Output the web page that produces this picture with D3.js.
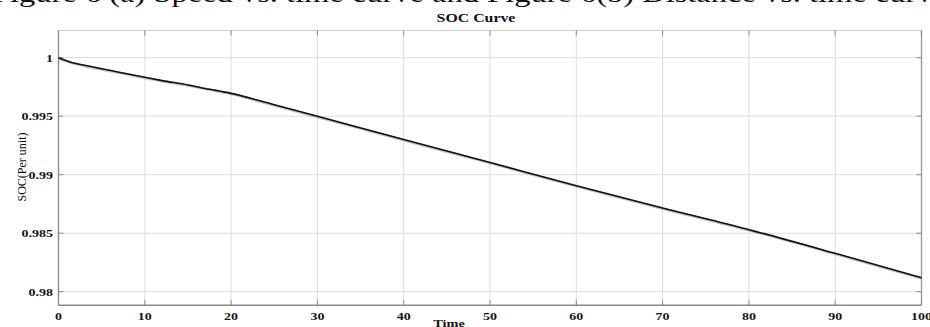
<!DOCTYPE html>
<html>
<head>
<meta charset="utf-8">
<script src="https://cdn.jsdelivr.net/npm/d3@7"></script>
<style>
  html, body { margin: 0; padding: 0; background: #fff; }
  svg { display: block; }
  text { font-family: "Liberation Serif", "Times New Roman", serif; fill: #111; }
</style>
</head>
<body>
<svg id="chart" width="930" height="327"></svg>
<script>
// Battery state of charge over the drive cycle
const time = [0, 1, 2, 3, 5, 7, 10, 12, 15, 17, 20, 25, 30, 40, 50, 60, 70, 80, 90, 100];
const soc  = [1.0000, 0.99972, 0.99950, 0.99935, 0.99905, 0.99876, 0.99832, 0.99804, 0.99767, 0.99737,
              0.99695, 0.99597, 0.99499, 0.99300, 0.99104, 0.98906, 0.98715, 0.98530, 0.98328, 0.98120];
const xTicks = [0, 10, 20, 30, 40, 50, 60, 70, 80, 90, 100];
const yTicks = [0.98, 0.985, 0.99, 0.995, 1];
const yTickLabels = ["0.98", "0.985", "0.99", "0.995", "1"];
const headerText = "Figure 6 (a) Speed vs. time curve and Figure 6(b) Distance vs. time curve";
const titleText = "SOC Curve";
const xLabelText = "Time";
const yLabelText = "SOC(Per unit)";

const svg = d3.select("#chart");
const plot = { left: 58.5, right: 921.5, top: 30.5, bottom: 305.3 };

const x = d3.scaleLinear().domain([0, 100]).range([plot.left, plot.right]);
const y = d3.scaleLinear().domain([0.97884, 1.00232]).range([plot.bottom, plot.top]);

// Text stretched horizontally, anchored at (tx, ty)
function wideText(g, tx, ty, str, opts) {
  const sx = opts.sx || 1.3;
  return g.append("text")
    .attr("transform", `translate(${tx},${ty}) scale(${sx},1)`)
    .attr("text-anchor", opts.anchor || "middle")
    .attr("font-size", opts.size)
    .attr("font-weight", opts.weight || "bold")
    .text(str);
}

// Caption line from the surrounding page, cut at the top edge
svg.append("text")
  .attr("x", -8).attr("y", 2)
  .attr("font-size", 26)
  .attr("textLength", 955)
  .attr("lengthAdjust", "spacingAndGlyphs")
  .text(headerText);

// Grid
const grid = svg.append("g");
grid.selectAll("line.gx").data(xTicks.slice(1, -1)).join("line")
  .attr("x1", d => x(d)).attr("x2", d => x(d))
  .attr("y1", plot.top).attr("y2", plot.bottom)
  .attr("stroke", "#dcdcdc").attr("stroke-width", 1);
grid.selectAll("line.gy").data(yTicks).join("line")
  .attr("x1", plot.left).attr("x2", plot.right)
  .attr("y1", d => y(d)).attr("y2", d => y(d))
  .attr("stroke", "#dcdcdc").attr("stroke-width", 1);

// Axis frame
svg.append("line").attr("x1", plot.left).attr("x2", plot.right).attr("y1", plot.top).attr("y2", plot.top)
  .attr("stroke", "#cfcfcf").attr("stroke-width", 1.2);
svg.append("line").attr("x1", plot.right).attr("x2", plot.right).attr("y1", plot.top).attr("y2", plot.bottom)
  .attr("stroke", "#9a9a9a").attr("stroke-width", 1.4);
svg.append("line").attr("x1", plot.left).attr("x2", plot.right).attr("y1", plot.bottom).attr("y2", plot.bottom)
  .attr("stroke", "#8a8a8a").attr("stroke-width", 1.4);
svg.append("line").attr("x1", plot.left).attr("x2", plot.left).attr("y1", plot.top).attr("y2", plot.bottom)
  .attr("stroke", "#8a8a8a").attr("stroke-width", 1.4);

// Inward ticks on all four sides
const tk = 5;
const ticks = svg.append("g").attr("stroke", "#8a8a8a").attr("stroke-width", 1);
ticks.selectAll("line.tb").data(xTicks).join("line")
  .attr("x1", d => x(d)).attr("x2", d => x(d)).attr("y1", plot.bottom).attr("y2", plot.bottom - tk);
ticks.selectAll("line.tt").data(xTicks).join("line")
  .attr("x1", d => x(d)).attr("x2", d => x(d)).attr("y1", plot.top).attr("y2", plot.top + tk);
ticks.selectAll("line.tl").data(yTicks).join("line")
  .attr("x1", plot.left).attr("x2", plot.left + tk).attr("y1", d => y(d)).attr("y2", d => y(d));
ticks.selectAll("line.tr").data(yTicks).join("line")
  .attr("x1", plot.right).attr("x2", plot.right - tk).attr("y1", d => y(d)).attr("y2", d => y(d));

// Tick labels
const labels = svg.append("g");
xTicks.forEach(d => wideText(labels, x(d), 319.5, String(d), { size: 11, sx: 1.27 }));
yTicks.forEach((d, i) => wideText(labels, 53, y(d) + 4, yTickLabels[i], { size: 11, sx: 1.27, anchor: "end" }));

// Titles
wideText(svg, 476, 22, titleText, { size: 11.5, sx: 1.38 });
wideText(svg, 449, 326.5, xLabelText, { size: 11, sx: 1.3 });
svg.append("text")
  .attr("transform", `translate(25.5,167) rotate(-90)`)
  .attr("text-anchor", "middle")
  .attr("font-size", 12)
  .text(yLabelText);

// SOC curve
const line = d3.line().x((d, i) => x(time[i])).y(d => y(d)).curve(d3.curveMonotoneX);
svg.append("path").datum(soc)
  .attr("d", line)
  .attr("fill", "none")
  .attr("stroke", "#888")
  .attr("stroke-width", 2.6)
  .attr("opacity", 0.5)
  .attr("transform", "translate(0,0.6)");
svg.append("path").datum(soc)
  .attr("d", line)
  .attr("fill", "none")
  .attr("stroke", "#111")
  .attr("stroke-width", 1.6);
</script>
</body>
</html>
